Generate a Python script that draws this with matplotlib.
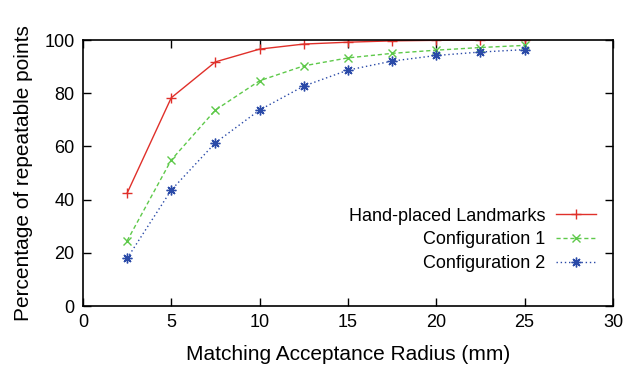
import matplotlib.pyplot as plt

radius = [2.5, 5, 7.5, 10, 12.5, 15, 17.5, 20, 22.5, 25]
hand_placed = [42.4, 78.3, 91.8, 96.6, 98.5, 99.2, 99.7, 99.9, 100.0, 100.0]
config1 = [24.5, 54.9, 73.7, 84.7, 90.3, 93.3, 95.0, 96.2, 97.2, 98.0]
config2 = [17.9, 43.6, 61.4, 73.7, 82.7, 88.7, 92.1, 94.2, 95.5, 96.4]

labels = ['Hand-placed Landmarks', 'Configuration 1', 'Configuration 2']

plt.rcParams['font.family'] = ['Liberation Sans', 'DejaVu Sans']

fig = plt.figure(figsize=(6.28, 3.71), dpi=100)
ax = fig.add_axes([0.132, 0.175, 0.844, 0.717])

ax.plot(radius, hand_placed, color='#e0302a', lw=1.0, marker='+', ms=7, mew=1.0,
        label=labels[0])
ax.plot(radius, config1, color='#5ec94a', lw=1.0, ls=(0, (3, 2)), marker='x', ms=6, mew=1.0,
        label=labels[1])
ax.plot(radius, config2, color='#2a4aa8', lw=1.0, ls=(0, (1, 2)), marker=(8, 2, 0), ms=7, mew=1.0,
        label=labels[2])

ax.set_xlim(0, 30)
ax.set_ylim(0, 100)
ax.set_xticks(range(0, 31, 5))
ax.set_yticks(range(0, 101, 20))
ax.tick_params(direction='in', length=6, width=1, top=True, right=True, labelsize=13, pad=6)
for s in ax.spines.values():
    s.set_linewidth(1.2)
ax.set_xlabel('Matching Acceptance Radius (mm)', fontsize=15, labelpad=10)
ax.set_ylabel('Percentage of repeatable points', fontsize=15, labelpad=8)

ax.legend(loc='lower right', bbox_to_anchor=(0.998, 0.066), frameon=False, markerfirst=False,
          fontsize=13, handlelength=2.2, labelspacing=0.38, handletextpad=0.6)

fig.savefig('out.png', dpi=100)
